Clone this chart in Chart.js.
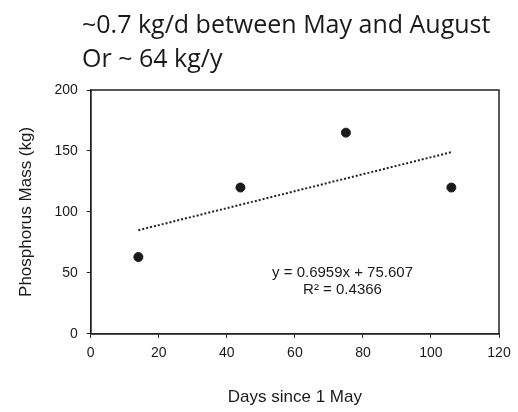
<!DOCTYPE html>
<html lang="en">

<head>
    <meta charset="UTF-8" />
    <title>Phosphorus Mass</title>
    <script src="https://cdn.jsdelivr.net/npm/chart.js"></script>
    <style>
        html, body { margin: 0; padding: 0; background: #fff; }
        #wrap { width: 518px; height: 412px; }
    </style>
</head>

<body>
    <div id="wrap"><canvas id="grafico"></canvas></div>

    <script>
        // observacoes (dias desde 1 de maio, massa de fosforo em kg)
        var dias = [14, 44, 75, 106];
        var massa = [63, 120, 165, 120];

        // linha de tendencia (pontas)
        var tendDias = [14, 106];
        var tendMassa = [85, 149];

        var tituloLinhas = ["~0.7 kg/d between May and August", "Or ~ 64 kg/y"];
        var equacao = ["y = 0.6959x + 75.607", "R\u00b2 = 0.4366"];
        var xTicks = [0, 20, 40, 60, 80, 100, 120];
        var yTicks = [0, 50, 100, 150, 200];

        function pares(xs, ys) {
            return xs.map(function (x, i) { return { x: x, y: ys[i] }; });
        }

        // titulo, moldura e texto da equacao
        var extras = {
            id: 'extras',
            afterDraw: function (chart) {
                var ctx = chart.ctx;
                var a = chart.chartArea;
                var sx = chart.scales.x, sy = chart.scales.y;
                ctx.save();
                ctx.strokeStyle = '#222';
                ctx.lineWidth = 1.5;
                ctx.strokeRect(a.left, a.top, a.right - a.left, a.bottom - a.top);

                ctx.fillStyle = '#1a1a1a';
                ctx.font = '25px "Open Sans"';
                ctx.textAlign = 'left';
                ctx.textBaseline = 'alphabetic';
                ctx.fillText(tituloLinhas[0], 82, 33);
                ctx.fillText(tituloLinhas[1], 82, 67);

                ctx.font = '15px "Liberation Sans", Arial';
                ctx.textAlign = 'center';
                ctx.textBaseline = 'middle';
                ctx.fillText(equacao[0], sx.getPixelForValue(74), sy.getPixelForValue(50));
                ctx.fillText(equacao[1], sx.getPixelForValue(74), sy.getPixelForValue(36));
                ctx.restore();
            }
        };

        var ctx = document.getElementById('grafico').getContext('2d');
        new Chart(ctx, {
            type: 'scatter',
            data: {
                datasets: [{
                    data: pares(dias, massa),
                    backgroundColor: '#1a1a1a',
                    borderColor: '#1a1a1a',
                    pointRadius: 4.5,
                    pointHoverRadius: 4.5
                }, {
                    type: 'line',
                    data: pares(tendDias, tendMassa),
                    borderColor: '#222',
                    borderWidth: 2,
                    borderDash: [2, 2],
                    pointRadius: 0,
                    fill: false
                }]
            },
            options: {
                responsive: true,
                maintainAspectRatio: false,
                animation: false,
                layout: { padding: { top: 90, right: 19, bottom: 4, left: 16 } },
                plugins: {
                    legend: { display: false },
                    tooltip: { enabled: false }
                },
                scales: {
                    x: {
                        type: 'linear',
                        min: 0,
                        max: 120,
                        afterBuildTicks: function (s) { s.ticks = xTicks.map(function (v) { return { value: v }; }); },
                        grid: { drawOnChartArea: false, color: '#222', tickLength: 4 },
                        border: { color: '#222', width: 1.5 },
                        ticks: { color: '#1a1a1a', font: { family: '"Liberation Sans", Arial', size: 14 }, padding: 7 },
                        title: {
                            display: true,
                            text: 'Days since 1 May',
                            color: '#1a1a1a',
                            font: { family: '"Liberation Sans", Arial', size: 17 },
                            padding: { top: 19, bottom: 0 }
                        }
                    },
                    y: {
                        min: 0,
                        max: 200,
                        afterBuildTicks: function (s) { s.ticks = yTicks.map(function (v) { return { value: v }; }); },
                        grid: { drawOnChartArea: false, color: '#222', tickLength: 4 },
                        border: { color: '#222', width: 1.5 },
                        ticks: { color: '#1a1a1a', font: { family: '"Liberation Sans", Arial', size: 14 }, padding: 9 },
                        title: {
                            display: true,
                            text: 'Phosphorus Mass (kg)',
                            color: '#1a1a1a',
                            font: { family: '"Liberation Sans", Arial', size: 17 },
                            padding: { top: 0, bottom: 9 }
                        }
                    }
                }
            },
            plugins: [extras]
        });
    </script>
</body>

</html>
